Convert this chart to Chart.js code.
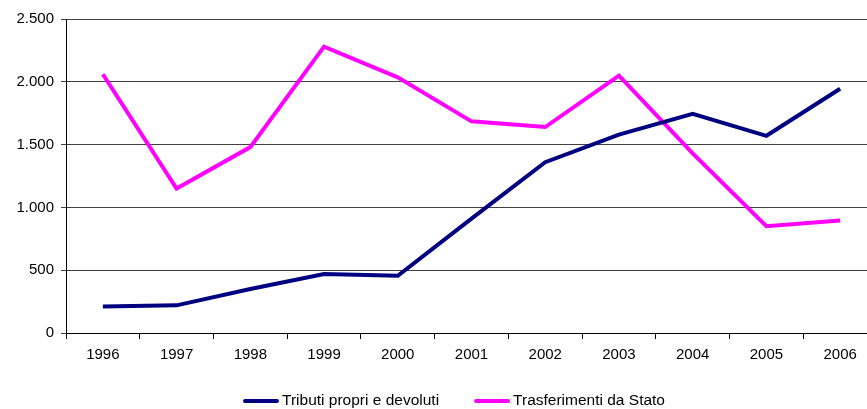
<!DOCTYPE html>
<html>
<head>
<meta charset="utf-8">
<script src="https://cdn.jsdelivr.net/npm/chart.js@4/dist/chart.umd.min.js"></script>
<style>
  html, body { margin: 0; padding: 0; background: #fff; overflow: hidden; }
  #wrap { width: 877px; height: 409px; }
</style>
</head>
<body>
<div id="wrap"><canvas id="myChart" width="877" height="409"></canvas></div>
<script>
const anni = ["1996","1997","1998","1999","2000","2001","2002","2003","2004","2005","2006"];
const tributi = [210, 220, 350, 470, 455, 910, 1360, 1580, 1745, 1570, 1945];
const trasferimenti = [2060, 1150, 1480, 2280, 2035, 1685, 1640, 2050, 1430, 850, 895];

// formato italiano: 2.500
function formatta(v) {
  return String(v).replace(/\B(?=(\d{3})+(?!\d))/g, '.');
}

const fontName = '"Liberation Sans", Arial, sans-serif';
Chart.defaults.font.family = fontName;
Chart.defaults.color = '#000';

// legenda disegnata a mano, centrata un po' a destra come nell'originale
const legendaSotto = {
  id: 'legendaSotto',
  afterDraw(chart) {
    const c = chart.ctx;
    const centro = 454, y = 401, linea = 36, gap = 3, spazio = 35;
    c.save();
    c.font = '15.5px ' + fontName;
    c.textBaseline = 'middle';
    const ds = chart.data.datasets;
    const larg = ds.map(d => c.measureText(d.label).width);
    let tot = 0;
    larg.forEach((w, i) => { tot += linea + gap + w + (i > 0 ? spazio : 0); });
    let x = centro - tot / 2;
    ds.forEach((d, i) => {
      c.strokeStyle = d.borderColor;
      c.lineWidth = 4;
      c.lineCap = 'round';
      c.beginPath();
      c.moveTo(x + 2, y);
      c.lineTo(x + linea - 2, y);
      c.stroke();
      c.fillStyle = '#000';
      c.fillText(d.label, x + linea + gap, y);
      x += linea + gap + larg[i] + spazio;
    });
    c.restore();
  }
};

const ctx = document.getElementById('myChart');
const chart = new Chart(ctx, {
  type: 'line',
  data: {
    labels: anni,
    datasets: [{
      label: 'Tributi propri e devoluti',
      data: tributi,
      borderColor: '#000080',
      backgroundColor: '#000080',
      borderWidth: 4,
      pointRadius: 0,
      tension: 0
    }, {
      label: 'Trasferimenti da Stato',
      data: trasferimenti,
      borderColor: '#FF00FF',
      backgroundColor: '#FF00FF',
      borderWidth: 4,
      pointRadius: 0,
      tension: 0
    }]
  },
  plugins: [legendaSotto],
  options: {
    responsive: false,
    animation: false,
    layout: { padding: { top: 19, left: 0, right: 0, bottom: 0 } },
    plugins: {
      tooltip: { enabled: false },
      legend: { display: false }
    },
    scales: {
      x: {
        offset: true,
        border: { color: '#000', width: 1 },
        grid: {
          offset: true,
          drawOnChartArea: false,
          drawTicks: true,
          tickLength: 6,
          color: '#000'
        },
        ticks: { font: { size: 15 }, padding: 7, maxRotation: 0 },
        afterFit: function(scale) { scale.height = 409 - 333; }
      },
      y: {
        min: 0,
        max: 2500,
        border: { color: '#000', width: 1 },
        grid: {
          color: '#404040',
          tickLength: 5
        },
        ticks: {
          stepSize: 500,
          font: { size: 15 },
          padding: 7,
          callback: v => formatta(v)
        },
        afterFit: function(scale) { scale.width = 66; }
      }
    }
  }
});
</script>
</body>
</html>
